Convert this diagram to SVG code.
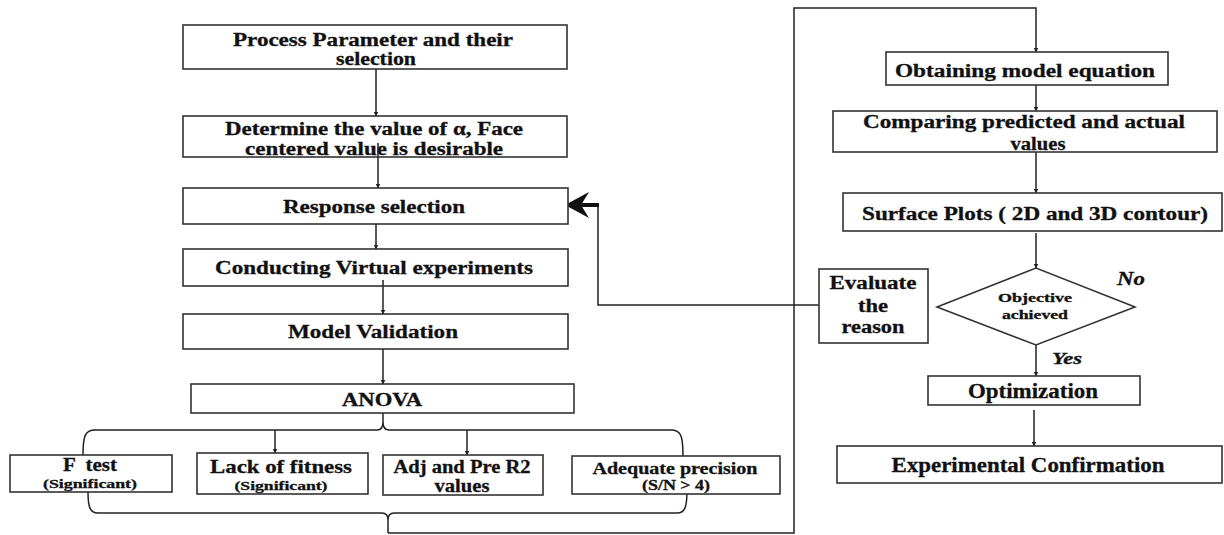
<svg xmlns="http://www.w3.org/2000/svg" width="1224" height="535" viewBox="0 0 1224 535">
<style>
.box{fill:#fff;stroke:#333;stroke-width:1.6}
.ln{fill:none;stroke:#222;stroke-width:1.5}
.t{font-family:"Liberation Serif","Times New Roman","DejaVu Serif",serif;font-weight:bold;fill:#111;stroke:#111;stroke-width:0.3;text-anchor:middle;font-size:18px}
.s{font-size:13px}
.i{font-style:italic;text-anchor:start}
</style>
<defs>
<marker id="ah" viewBox="0 0 10 10" refX="9" refY="5" markerWidth="5" markerHeight="5" orient="auto" markerUnits="userSpaceOnUse">
<path d="M0,0 L10,5 L0,10 z" fill="#222"/>
</marker>
</defs>
<rect width="1224" height="535" fill="#fff"/>
<g id="connectors">
<path class="ln" d="M376,69 V116" marker-end="url(#ah)"/>
<path class="ln" d="M378,143 V188" marker-end="url(#ah)"/>
<path class="ln" d="M376,224 V249" marker-end="url(#ah)"/>
<path class="ln" d="M383,280 V314" marker-end="url(#ah)"/>
<path class="ln" d="M383,349 V384" marker-end="url(#ah)"/>
<path class="ln" d="M83,455 C83,436 85,430 95,430 L377,430 Q383,430 383,422 L383,413 M383,422 Q383,430 389,430 L671,430 C681,430 683,436 683,456"/>
<path class="ln" d="M275,430 V453" marker-end="url(#ah)"/>
<path class="ln" d="M467,430 V455" marker-end="url(#ah)"/>
<path class="ln" d="M88,492 C88,507 90,513 98,513 L382,513 Q388,513 388,520 L388,533 M388,520 Q388,513 394,513 L677,513 C685,513 687,507 687,490"/>
<path class="ln" d="M388,533 H794 V8 H1036 V52" marker-end="url(#ah)"/>
<path class="ln" d="M1036,85 V111" marker-end="url(#ah)"/>
<path class="ln" d="M1036,152 V193" marker-end="url(#ah)"/>
<path class="ln" d="M1036,233 V268" marker-end="url(#ah)"/>
<path class="ln" d="M1036,345 V376" marker-end="url(#ah)"/>
<path class="ln" d="M1034,410 V446" marker-end="url(#ah)"/>
<path class="ln" d="M819,305 H598 V205"/>
<path d="M599,205 H578" fill="none" stroke="#111" stroke-width="4"/>
<polygon points="565,205 589,192 581,205 589,218" fill="#111"/>
</g>
<g id="n1"><rect class="box" x="183" y="25" width="384" height="44"/>
<text class="t" x="373" y="46" textLength="280" lengthAdjust="spacingAndGlyphs">Process Parameter and their</text>
<text class="t" x="376" y="65" textLength="80" lengthAdjust="spacingAndGlyphs">selection</text></g>
<g id="n2"><rect class="box" x="183" y="116" width="384" height="41"/>
<text class="t" x="374" y="135" textLength="298" lengthAdjust="spacingAndGlyphs">Determine the value of α, Face</text>
<text class="t" x="374" y="155" textLength="258" lengthAdjust="spacingAndGlyphs">centered value is desirable</text></g>
<path class="ln" d="M378,143 V157"/>
<g id="n3"><rect class="box" x="183" y="188" width="385" height="36"/>
<text class="t" x="374" y="213" textLength="182" lengthAdjust="spacingAndGlyphs">Response selection</text></g>
<g id="n4"><rect class="box" x="183" y="249" width="385" height="37"/>
<text class="t" x="374" y="274" textLength="318" lengthAdjust="spacingAndGlyphs">Conducting Virtual experiments</text></g>
<path class="ln" d="M383,280 V286"/>
<g id="n5"><rect class="box" x="183" y="314" width="385" height="35"/>
<text class="t" x="373" y="338" textLength="170" lengthAdjust="spacingAndGlyphs">Model Validation</text></g>
<g id="n6"><rect class="box" x="191" y="384" width="383" height="29"/>
<text class="t" x="382" y="406" textLength="80" lengthAdjust="spacingAndGlyphs">ANOVA</text></g>
<g id="n7"><rect class="box" x="10" y="455" width="162" height="37"/>
<text class="t" x="90" y="471" textLength="54" lengthAdjust="spacingAndGlyphs" xml:space="preserve">F  test</text>
<text class="t s" x="90" y="488" textLength="94" lengthAdjust="spacingAndGlyphs">(Significant)</text></g>
<g id="n8"><rect class="box" x="197" y="453" width="171" height="41"/>
<text class="t" style="font-size:19px" x="281" y="473" textLength="142" lengthAdjust="spacingAndGlyphs">Lack of fitness</text>
<text class="t s" x="281" y="490" textLength="93" lengthAdjust="spacingAndGlyphs">(Significant)</text></g>
<g id="n9"><rect class="box" x="383" y="455" width="160" height="40"/>
<text class="t" x="462" y="473" textLength="137" lengthAdjust="spacingAndGlyphs">Adj and Pre R2</text>
<text class="t" x="462" y="492" textLength="55" lengthAdjust="spacingAndGlyphs">values</text></g>
<g id="n10"><rect class="box" x="572" y="456" width="208" height="38"/>
<text class="t" style="font-size:17px" x="675" y="474" textLength="165" lengthAdjust="spacingAndGlyphs">Adequate precision</text>
<text class="t" style="font-size:14px" x="676" y="490" textLength="68" lengthAdjust="spacingAndGlyphs">(S/N &gt; 4)</text></g>
<g id="n11"><rect class="box" x="886" y="52" width="282" height="33"/>
<text class="t" x="1025" y="77" textLength="260" lengthAdjust="spacingAndGlyphs">Obtaining model equation</text></g>
<g id="n12"><rect class="box" x="833" y="111" width="384" height="41"/>
<text class="t" x="1024" y="128" textLength="322" lengthAdjust="spacingAndGlyphs">Comparing predicted and actual</text>
<text class="t" x="1038" y="150" textLength="55" lengthAdjust="spacingAndGlyphs">values</text></g>
<g id="n13"><rect class="box" x="843" y="193" width="379" height="38"/>
<text class="t" x="1035" y="220" textLength="346" lengthAdjust="spacingAndGlyphs">Surface Plots ( 2D and 3D contour)</text></g>
<g id="n14"><rect class="box" x="819" y="269" width="109" height="74"/>
<text class="t" x="873" y="289" textLength="87" lengthAdjust="spacingAndGlyphs">Evaluate</text>
<text class="t" x="873" y="312" textLength="30" lengthAdjust="spacingAndGlyphs">the</text>
<text class="t" x="873" y="333" textLength="63" lengthAdjust="spacingAndGlyphs">reason</text></g>
<g id="n15"><polygon class="box" points="937,307 1036,268 1135,307 1036,345"/>
<text class="t" style="font-size:12px" x="1035" y="302" textLength="74" lengthAdjust="spacingAndGlyphs">Objective</text>
<text class="t" style="font-size:12px" x="1035" y="319" textLength="66" lengthAdjust="spacingAndGlyphs">achieved</text></g>
<text class="t i" x="1117" y="285" textLength="28" lengthAdjust="spacingAndGlyphs">No</text>
<text class="t i" style="font-size:17px" x="1052" y="364" textLength="30" lengthAdjust="spacingAndGlyphs">Yes</text>
<g id="n16"><rect class="box" x="928" y="376" width="212" height="29"/>
<text class="t" style="font-size:20px" x="1033" y="398" textLength="130" lengthAdjust="spacingAndGlyphs">Optimization</text></g>
<g id="n17"><rect class="box" x="837" y="446" width="385" height="37"/>
<text class="t" style="font-size:20px" x="1028" y="472" textLength="273" lengthAdjust="spacingAndGlyphs">Experimental Confirmation</text></g>
</svg>
